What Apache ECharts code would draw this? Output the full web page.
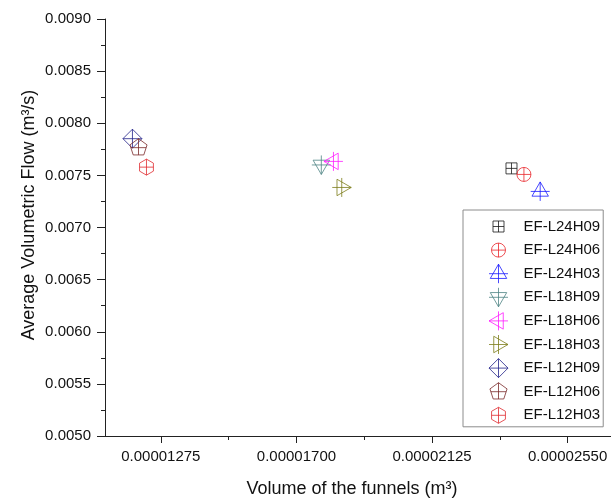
<!DOCTYPE html>
<html>
<head>
<meta charset="utf-8">
<script src="https://cdn.jsdelivr.net/npm/echarts@6/dist/echarts.min.js"></script>
<style>
  html, body { margin: 0; padding: 0; background: #ffffff; }
  #chart { width: 611px; height: 499px; }
</style>
</head>
<body>
<div id="chart"></div>
<script>
// Funnel runs: name, funnel volume (m^3) and average volumetric flow (m^3/s)
const seriesNames = ['EF-L24H09', 'EF-L24H06', 'EF-L24H03',
                     'EF-L18H09', 'EF-L18H06', 'EF-L18H03',
                     'EF-L12H09', 'EF-L12H06', 'EF-L12H03'];
const funnelVolume = [0.00002374, 0.00002413, 0.00002464,
                      0.00001778, 0.00001816, 0.00001842,
                      0.00001186, 0.00001205, 0.00001230];
const avgFlow = [0.007567, 0.007509, 0.007346,
                 0.007600, 0.007634, 0.007384,
                 0.007852, 0.007766, 0.007579];

// Axis ticks
const xTickLabels = ['0.00001275', '0.00001700', '0.00002125', '0.00002550'];
const xMinorTicks = [0.000014875, 0.000019125, 0.000023375];
const yTickLabels = ['0.0050', '0.0055', '0.0060', '0.0065', '0.0070',
                     '0.0075', '0.0080', '0.0085', '0.0090'];

// Marker styling
const colors = ['#1a1a1a', '#e8262a', '#1a1aff',
                '#4f8585', '#ff1aff', '#7d7d1a',
                '#22228a', '#7a2a2a', '#e02a30'];

// Hollow marker outlines with an inner cross, all drawn in a common
// 20x20 frame centred on the data point (the leading moves fix the frame).
const FRAME = 'M-10 -10M10 10';
const f = v => (+v.toFixed(3));
function seg(x1, y1, x2, y2) { return `M${f(x1)} ${f(y1)}L${f(x2)} ${f(y2)}`; }
function poly(pts) {
  return pts.map((p, i) => (i ? 'L' : 'M') + f(p[0]) + ' ' + f(p[1])).join('') + 'Z';
}
function regular(n, r, startDeg) {
  const pts = [];
  for (let k = 0; k < n; k++) {
    const a = (startDeg + 360 / n * k) * Math.PI / 180;
    pts.push([r * Math.cos(a), r * Math.sin(a)]);
  }
  return pts;
}
function cross(h, vTop, vBot) { return seg(0, vTop, 0, vBot) + seg(-h, 0, h, 0); }

function squareSym(s) { return poly([[-s, -s], [s, -s], [s, s], [-s, s]]) + cross(s, -s, s); }
function circleSym(r) {
  return `M${-r} 0A${r} ${r} 0 1 1 ${r} 0A${r} ${r} 0 1 1 ${-r} 0Z` + cross(r, -r, r);
}
function triSym(r, dir) {
  const a = 0.866 * r, b = 0.5 * r;
  const shapes = {
    up:    [[0, -r], [a, b], [-a, b]],
    down:  [[0, r], [a, -b], [-a, -b]],
    left:  [[-r, 0], [b, -a], [b, a]],
    right: [[r, 0], [-b, -a], [-b, a]]
  };
  return poly(shapes[dir]) + cross(r, -r, r);
}
function diamondSym(d) { return poly([[0, -d], [d, 0], [0, d], [-d, 0]]) + cross(d, -d, d); }
function pentagonSym(r) {
  return poly(regular(5, r, -90)) + cross(0.851 * r, -r, 0.809 * r);
}
function hexagonSym(r) {
  return poly(regular(6, r, -90)) + cross(0.866 * r, -r, r);
}

const symbolPaths = [
  squareSym(5.5), circleSym(7), triSym(9.5, 'up'),
  triSym(9.5, 'down'), triSym(9.5, 'left'), triSym(9.5, 'right'),
  diamondSym(9.5), pentagonSym(9), hexagonSym(8)
].map(p => 'path://' + FRAME + p);

const FONT = '"Liberation Sans", Arial, sans-serif';
const TEXT = '#111111';
const AXIS = '#222222';

const series = seriesNames.map((name, i) => ({
  name: name,
  type: 'scatter',
  xAxisIndex: 0,
  data: [[funnelVolume[i], avgFlow[i]]],
  symbol: symbolPaths[i],
  symbolSize: 20,
  symbolKeepAspect: true,
  itemStyle: { color: 'transparent', borderColor: colors[i], borderWidth: 1 },
  emphasis: { disabled: true },
  z: 3
}));

const chart = echarts.init(document.getElementById('chart'), null, { renderer: 'canvas' });

chart.setOption({
  backgroundColor: '#ffffff',
  animation: false,
  textStyle: { fontFamily: FONT },
  grid: {
    left: 105, top: 19, right: -4.5, bottom: 63,
    containLabel: false, outerBoundsMode: 'none'
  },
  xAxis: [{
    type: 'value',
    min: 0.000011,
    max: 0.000027,
    position: 'bottom',
    axisLine: { show: true, onZero: false, lineStyle: { color: AXIS, width: 1 } },
    axisTick: { show: true, length: 7, lineStyle: { color: AXIS }, customValues: xTickLabels.map(Number) },
    axisLabel: {
      show: true, margin: 13, color: TEXT, fontSize: 15, fontFamily: FONT,
      customValues: xTickLabels.map(Number),
      formatter: v => v.toFixed(8)
    },
    splitLine: { show: false }
  }, {
    type: 'value',
    min: 0.000011,
    max: 0.000027,
    position: 'bottom',
    axisLine: { show: false },
    axisTick: { show: true, length: 4, lineStyle: { color: AXIS }, customValues: xMinorTicks },
    axisLabel: { show: false },
    splitLine: { show: false }
  }],
  yAxis: {
    type: 'value',
    min: Number(yTickLabels[0]),
    max: Number(yTickLabels[yTickLabels.length - 1]),
    interval: 0.0005,
    axisLine: { show: true, onZero: false, lineStyle: { color: AXIS, width: 1 } },
    axisTick: { show: true, length: 8, lineStyle: { color: AXIS } },
    minorTick: { show: true, splitNumber: 2, length: 4, lineStyle: { color: AXIS } },
    axisLabel: {
      margin: 14, color: TEXT, fontSize: 15, fontFamily: FONT,
      formatter: v => v.toFixed(4)
    },
    splitLine: { show: false },
    minorSplitLine: { show: false }
  },
  legend: {
    orient: 'vertical',
    left: 463,
    top: 210,
    padding: [6, 3, 1, 25],
    itemWidth: 40,
    itemHeight: 20,
    itemGap: 2.6,
    symbolKeepAspect: true,
    borderColor: '#8c8c8c',
    borderWidth: 1,
    backgroundColor: '#ffffff',
    selectedMode: false,
    itemStyle: { color: 'transparent', borderWidth: 1 },
    textStyle: { color: TEXT, fontSize: 15, fontFamily: FONT },
    data: seriesNames.map((n, i) => ({ name: n, icon: symbolPaths[i] }))
  },
  graphic: [{
    type: 'text',
    x: 352, y: 489,
    style: {
      text: 'Volume of the funnels (m\u00B3)',
      font: '18px ' + FONT,
      fill: TEXT,
      align: 'center', verticalAlign: 'middle',
      textAlign: 'center', textVerticalAlign: 'middle'
    }
  }, {
    type: 'text',
    x: 29, y: 215,
    rotation: Math.PI / 2,
    style: {
      text: 'Average Volumetric Flow (m\u00B3/s)',
      font: '18px ' + FONT,
      fill: TEXT,
      align: 'center', verticalAlign: 'middle',
      textAlign: 'center', textVerticalAlign: 'middle'
    }
  }],
  series: series
});
</script>
</body>
</html>
